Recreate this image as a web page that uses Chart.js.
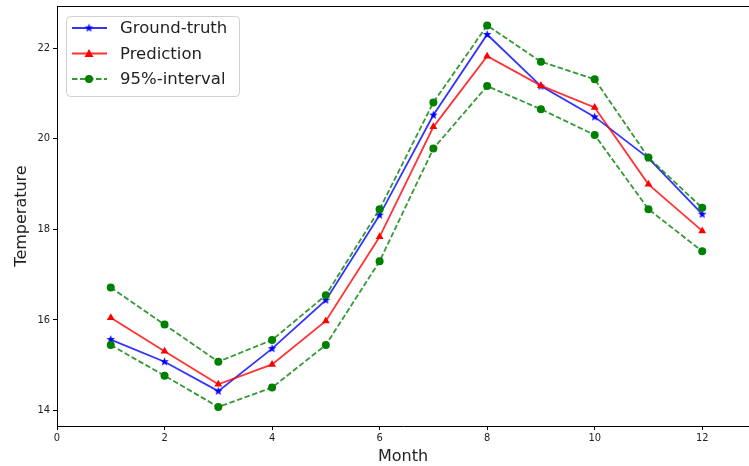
<!DOCTYPE html>
<html>
<head>
<meta charset="utf-8">
<script src="https://cdn.jsdelivr.net/npm/chart.js@4"></script>
<style>
  html, body { margin: 0; padding: 0; background: #fff; }
</style>
</head>
<body>
<canvas id="myChart" width="749" height="466"></canvas>
<script>
// data
let months = [1, 2, 3, 4, 5, 6, 7, 8, 9, 10, 11, 12];
let groundTruth = [15.56, 15.07, 14.42, 15.36, 16.43, 18.31, 20.52, 22.30, 21.16, 20.48, 19.57, 18.33];
let prediction = [16.04, 15.30, 14.57, 15.01, 15.97, 17.83, 20.26, 21.82, 21.17, 20.69, 18.99, 17.96];
let upperBound = [16.71, 15.89, 15.07, 15.55, 16.54, 18.44, 20.80, 22.50, 21.70, 21.31, 19.58, 18.47];
let lowerBound = [15.44, 14.76, 14.07, 14.50, 15.44, 17.29, 19.78, 21.16, 20.65, 20.08, 18.44, 17.51];
let xTicks = [0, 2, 4, 6, 8, 10, 12];
let yTicks = [14, 16, 18, 20, 22];

const FONT = '"DejaVu Sans", sans-serif';
const TICK_FONT = '"DejaVu Sans Condensed", "DejaVu Sans", sans-serif';
const LW = 1.8;
const DASH = [5.5, 2.5];

function toPoints(values){
    return months.map((m, i) => ({x: m, y: values[i]}));
}

// filled star like matplotlib '*'
function makeStar(color, r){
    let c = document.createElement('canvas');
    let size = Math.ceil(r * 2 + 2);
    c.width = size; c.height = size;
    let g = c.getContext('2d');
    g.fillStyle = color;
    g.beginPath();
    for(let i = 0; i < 10; i++){
        let rad = i % 2 === 0 ? r : r * 0.42;
        let a = -Math.PI / 2 + i * Math.PI / 5;
        let px = size / 2 + rad * Math.cos(a);
        let py = size / 2 + rad * Math.sin(a);
        if(i === 0) g.moveTo(px, py); else g.lineTo(px, py);
    }
    g.closePath();
    g.fill();
    return c;
}
let starImg = makeStar('#0000ff', 4.5);

let legendItems = [
    {label: 'Ground-truth', color: 'rgba(0,0,255,0.8)', marker: 'star', mColor: '#0000ff', dash: []},
    {label: 'Prediction', color: 'rgba(255,0,0,0.8)', marker: 'triangle', mColor: '#ff0000', dash: []},
    {label: '95%-interval', color: 'rgba(0,128,0,0.8)', marker: 'circle', mColor: '#008000', dash: DASH}
];

function drawMarker(ctx, type, color, x, y){
    ctx.save();
    ctx.fillStyle = color;
    if(type === 'star'){
        ctx.drawImage(starImg, x - starImg.width / 2, y - starImg.height / 2);
    }else if(type === 'triangle'){
        ctx.beginPath();
        ctx.moveTo(x, y - 4.5);
        ctx.lineTo(x + 4.5, y + 3.5);
        ctx.lineTo(x - 4.5, y + 3.5);
        ctx.closePath();
        ctx.fill();
    }else{
        ctx.beginPath();
        ctx.arc(x, y, 4, 0, Math.PI * 2);
        ctx.fill();
    }
    ctx.restore();
}

function noPadding(scale){
    scale.paddingTop = 0;
    scale.paddingBottom = 0;
    scale.paddingLeft = 0;
    scale.paddingRight = 0;
}

const framePlugin = {
    id: 'frameAndLegend',
    afterDraw(chart){
        let ctx = chart.ctx;
        let a = chart.chartArea;
        ctx.save();
        // top border of the axes frame
        ctx.strokeStyle = '#000';
        ctx.lineWidth = 1;
        ctx.beginPath();
        ctx.moveTo(a.left, a.top + 0.5);
        ctx.lineTo(a.right, a.top + 0.5);
        ctx.stroke();

        // legend box
        let bx = 66.5, by = 16.5, bw = 173, bh = 80, r = 4;
        ctx.fillStyle = 'rgba(255,255,255,0.85)';
        ctx.strokeStyle = '#d0d0d0';
        ctx.beginPath();
        ctx.roundRect(bx, by, bw, bh, r);
        ctx.fill();
        ctx.stroke();

        ctx.font = '16.5px ' + FONT;
        ctx.textBaseline = 'middle';
        legendItems.forEach((item, i) => {
            let y = 28 + i * 25.5;
            ctx.strokeStyle = item.color;
            ctx.lineWidth = LW;
            ctx.setLineDash(item.dash);
            ctx.beginPath();
            ctx.moveTo(72, y);
            ctx.lineTo(107, y);
            ctx.stroke();
            ctx.setLineDash([]);
            drawMarker(ctx, item.marker, item.mColor, 89, y);
            ctx.fillStyle = '#222';
            ctx.fillText(item.label, 120, y + 1);
        });
        ctx.restore();
    }
};

let ctx = document.getElementById('myChart').getContext('2d');
let myChart = new Chart(ctx, {
    type: 'line',
    data: {
        datasets: [
            {
                label: 'Ground-truth',
                data: toPoints(groundTruth),
                borderColor: 'rgba(0,0,255,0.8)',
                backgroundColor: '#0000ff',
                borderWidth: LW,
                pointStyle: starImg,
                pointRadius: 4.5,
                order: 2
            },
            {
                label: 'Prediction',
                data: toPoints(prediction),
                borderColor: 'rgba(255,0,0,0.8)',
                backgroundColor: '#ff0000',
                pointBorderColor: '#ff0000',
                borderWidth: LW,
                pointStyle: 'triangle',
                pointRadius: 4.5,
                pointBorderWidth: 0,
                order: 1
            },
            {
                label: '95%-interval',
                data: toPoints(upperBound),
                borderColor: 'rgba(0,128,0,0.8)',
                backgroundColor: '#008000',
                pointBorderColor: '#008000',
                borderWidth: LW,
                borderDash: DASH,
                pointStyle: 'circle',
                pointRadius: 4,
                pointBorderWidth: 0,
                order: 0
            },
            {
                label: '95%-interval lower',
                data: toPoints(lowerBound),
                borderColor: 'rgba(0,128,0,0.8)',
                backgroundColor: '#008000',
                pointBorderColor: '#008000',
                borderWidth: LW,
                borderDash: DASH,
                pointStyle: 'circle',
                pointRadius: 4,
                pointBorderWidth: 0,
                order: 0
            }
        ]
    },
    options: {
        responsive: false,
        animation: false,
        layout: { autoPadding: false, padding: { top: 6, right: 0, left: 0, bottom: 0 } },
        plugins: {
            legend: { display: false },
            tooltip: { enabled: false }
        },
        elements: { line: { tension: 0, fill: false } },
        scales: {
            x: {
                type: 'linear',
                min: 0,
                max: 12.87,
                afterBuildTicks: (scale) => { scale.ticks = xTicks.map(v => ({value: v})); },
                afterFit: (scale) => { scale.height = 40; noPadding(scale); },
                grid: { drawOnChartArea: false, drawTicks: true, tickLength: 4, color: '#000' },
                border: { display: true, color: '#000', width: 1 },
                ticks: { color: '#222', font: { family: TICK_FONT, size: 11 }, padding: 2, maxRotation: 0 },
                title: { display: true, text: 'Month', color: '#222', font: { family: FONT, size: 16 }, padding: { top: 0, bottom: 0 } }
            },
            y: {
                min: 13.65,
                max: 22.93,
                afterBuildTicks: (scale) => { scale.ticks = yTicks.map(v => ({value: v})); },
                afterFit: (scale) => { scale.width = 57; noPadding(scale); },
                grid: { drawOnChartArea: false, drawTicks: true, tickLength: 4, color: '#000' },
                border: { display: true, color: '#000', width: 1 },
                ticks: { color: '#222', font: { family: TICK_FONT, size: 11 }, padding: 3 },
                title: { display: true, text: 'Temperature', color: '#222', font: { family: FONT, size: 16 }, padding: { top: 12, bottom: 0 } }
            }
        }
    },
    plugins: [framePlugin]
});
</script>
</body>
</html>
